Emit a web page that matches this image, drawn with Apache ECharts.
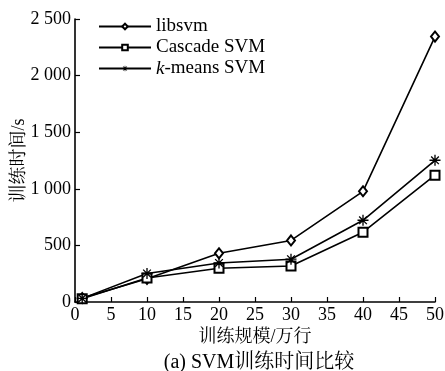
<!DOCTYPE html>
<html><head><meta charset="utf-8">
<script src="https://cdn.jsdelivr.net/npm/echarts@6/dist/echarts.min.js"></script>
<style>html,body{margin:0;padding:0;background:#fff}#c{width:445px;height:371px}</style>
</head><body><div id="c"></div>
<script>
var xValues = [1, 10, 20, 30, 40, 50];
var libsvm = [35, 205, 430, 544, 978, 2345];
var cascade = [28, 212, 298, 318, 617, 1120];
var kmeans = [32, 252, 345, 378, 722, 1252];
var seriesNames = ['libsvm', 'Cascade SVM', 'k-means SVM'];
var yTicks = [0, 500, 1000, 1500, 2000, 2500];

var FONT = '"Liberation Serif","Times New Roman","Noto Serif CJK SC","Noto Sans CJK SC",serif';
var chart = echarts.init(document.getElementById('c'));
function pairs(v){ return xValues.map(function(x,i){ return [x, v[i]]; }); }
var star = 'path://M0,4.4L10,4.4L10,5.6L0,5.6Z M4.4,0L5.6,0L5.6,10L4.4,10Z M1.08,1.92L1.92,1.08L8.92,8.08L8.08,8.92Z M8.08,1.08L8.92,1.92L1.92,8.92L1.08,8.08Z';
function fmtNum(v){ var s = String(v); if (s.length > 3) s = s.slice(0, s.length-3) + ' ' + s.slice(-3); return s; }
var common = {
  type: 'line', showAllSymbol: true, animation: false,
  lineStyle: {color: '#000', width: 1.6},
  emphasis: {disabled: true}
};
var symbols = ['emptyDiamond', 'emptyRect', star];
chart.setOption({
  animation: false,
  grid: {left: 75, right: 10, top: 19, bottom: 69, containLabel: false, outerBoundsMode: 'none'},
  title: {text: '(a) SVM训练时间比较', left: 254, textAlign: 'center', top: 348,
    textStyle: {fontFamily: FONT, fontSize: 20, fontWeight: 'normal', color: '#000'}},
  legend: {
    left: 93, top: 12, orient: 'vertical', itemGap: 2, itemWidth: 52, itemHeight: 7,
    data: seriesNames,
    textStyle: {fontFamily: FONT, fontSize: 19, color: '#000', rich: {i: {fontStyle: 'italic', fontFamily: FONT, fontSize: 19}}},
    formatter: function(n){ return n === 'k-means SVM' ? '{i|k}-means SVM' : n; }
  },
  xAxis: {
    type: 'value', min: 0, max: 50, interval: 5,
    name: '训练规模/万行', nameLocation: 'middle', nameGap: 26, nameMoveOverlap: false,
    nameTextStyle: {fontFamily: FONT, fontSize: 18, color: '#000'},
    axisLine: {lineStyle: {color: '#000', width: 1.6}},
    axisTick: {inside: true, length: 5, lineStyle: {color: '#000', width: 1.2}},
    axisLabel: {fontFamily: FONT, fontSize: 18, color: '#000', margin: 4},
    splitLine: {show: false}
  },
  yAxis: {
    type: 'value', min: 0, max: 2500, interval: 500,
    name: '训练时间/s', nameLocation: 'middle', nameGap: 47, nameRotate: 90, nameMoveOverlap: false,
    nameTextStyle: {fontFamily: FONT, fontSize: 18, color: '#000'},
    axisLine: {show: true, lineStyle: {color: '#000', width: 1.6}},
    axisTick: {show: true, inside: true, length: 5, lineStyle: {color: '#000', width: 1.2}},
    axisLabel: {fontFamily: FONT, fontSize: 18, color: '#000', margin: 4, formatter: fmtNum},
    splitLine: {show: false}
  },
  series: [
    Object.assign({}, common, {name: seriesNames[0], data: pairs(libsvm), symbol: symbols[0], symbolSize: [8, 10],
      itemStyle: {color: '#000', borderColor: '#000', borderWidth: 1.3}}),
    Object.assign({}, common, {name: seriesNames[1], data: pairs(cascade), symbol: symbols[1], symbolSize: 9,
      itemStyle: {color: '#000', borderColor: '#000', borderWidth: 1.4}}),
    Object.assign({}, common, {name: seriesNames[2], data: pairs(kmeans), symbol: symbols[2], symbolSize: 11,
      itemStyle: {color: '#000', borderColor: '#000', borderWidth: 0}})
  ]
});
</script></body></html>
